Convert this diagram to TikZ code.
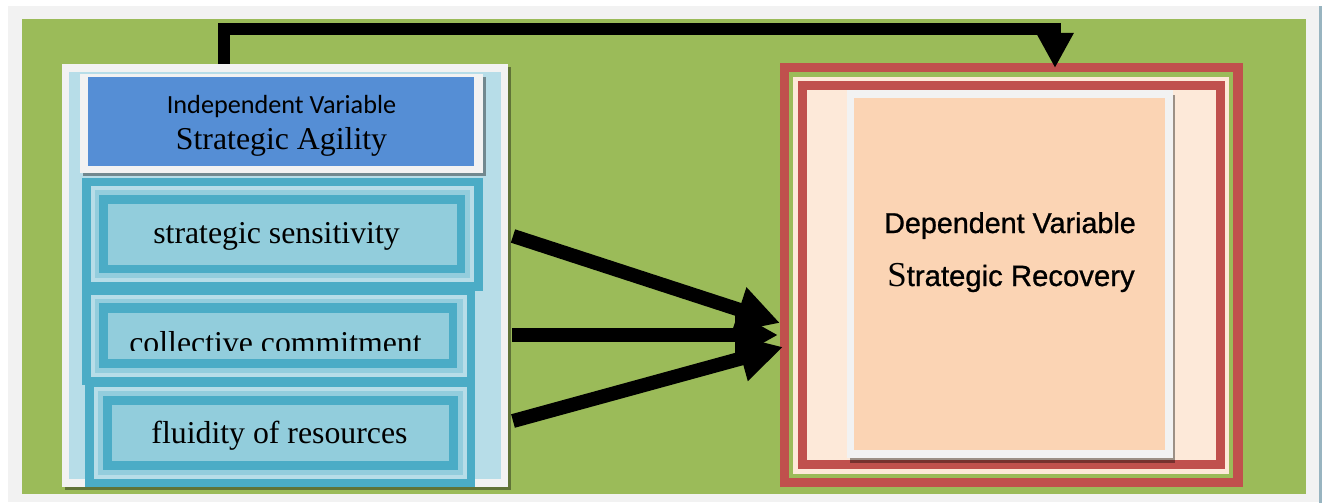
\documentclass[tikz,border=0pt]{standalone}
\usepackage{fontspec}
\setmainfont{Liberation Serif}
\newfontfamily\arialf[FakeBold=0.9]{Liberation Sans}
\newfontfamily\calibrif{Carlito}
\usetikzlibrary{arrows.meta,fit}
\definecolor{gbg}{HTML}{F2F2F2}
\definecolor{grn}{HTML}{9BBB59}
\definecolor{lblue}{HTML}{B7DDE8}
\definecolor{mblue}{HTML}{93CDDD}
\definecolor{fblue}{HTML}{92CDDC}
\definecolor{tealc}{HTML}{4BACC6}
\definecolor{hblue}{HTML}{558ED5}
\definecolor{redc}{HTML}{C0504D}
\definecolor{cream}{HTML}{FDE9D9}
\definecolor{peach}{HTML}{FBD4B4}
\definecolor{edgeb}{HTML}{98B4C0}
\begin{document}
\begin{tikzpicture}[x=1pt,y=-1pt,
  blk/.style={inner sep=0pt,outer sep=0pt,draw=none},
  shd/.style={blk,fill=black,opacity=0.38},
  txtserif/.style={anchor=base,inner sep=0pt,font=\fontsize{31.8}{36}\selectfont},
  conn/.style={line width=14pt,line cap=butt,-{Triangle[length=43pt,width=44pt]}},
  topconn/.style={line width=12pt,line cap=butt,line join=miter,-{Triangle[length=35pt,width=35pt]}}]
\useasboundingbox (0,0) rectangle (1322,503);
\fill[white] (0,0) rectangle (1322,503);
% background
\node[blk,fill=gbg,fit={(8,6) (1322,502)}] (bg) {};
\node[blk,fill=edgeb,fit={(1319,6) (1322,503)}] (edge) {};
\node[blk,fill=grn,fit={(22,19) (1306,494)}] (field) {};

% left panel
\node[shd,fit={(65,67) (511,490)}] (lpshadow) {};
\node[blk,fill=gbg,fit={(62,64) (508,487)}] (lp) {};
\node[blk,fill=lblue,fit={(69,72) (501,479)}] (lpin) {};
% header
\node[shd,fit={(83,77) (486,176)}] (hshadow) {};
\node[blk,fill=gbg,fit={(80,74) (483,173)}] (hframe) {};
\node[blk,fill=hblue,fit={(88,77) (474,166)}] (head) {};
\node[anchor=base,inner sep=0pt,font=\calibrif\fontsize{26.2}{30}\selectfont] (iv) at (281.5,113) {Independent Variable};
\node[txtserif] (sa) at (281.5,149) {Strategic Agility};

% item 1
\node[blk,fill=tealc,fit={(82,178) (483,291)}] (f1) {};
\node[blk,fill=lblue,fit={(91,186) (474,282)}] (f1a) {};
\node[blk,fill=mblue,fit={(95,190) (470,278)}] (f1b) {};
\node[blk,fill=tealc,fit={(99,195) (465,273)}] (f1c) {};
\node[blk,fill=fblue,fit={(108,204) (457,265)}] (s1) {};
\node[txtserif] (t1) at (276.5,243) {strategic sensitivity};

% item 2
\node[blk,fill=tealc,fit={(82,283) (475,385)}] (f2) {};
\node[blk,fill=lblue,fit={(91,295) (467,377)}] (f2a) {};
\node[blk,fill=mblue,fit={(95,299) (463,373)}] (f2b) {};
\node[blk,fill=tealc,fit={(99,303) (457,368)}] (f2c) {};
\node[blk,fill=fblue,fit={(108,313) (449,359)}] (s2) {};
\begin{scope}
\clip (108,313) rectangle (449,350);
\node[txtserif] (t2) at (275.5,353.7) {collective commitment};
\end{scope}

% item 3
\node[blk,fill=tealc,fit={(85,378) (475,487)}] (f3) {};
\node[blk,fill=lblue,fit={(94,387) (467,479)}] (f3a) {};
\node[blk,fill=mblue,fit={(98,391) (463,475)}] (f3b) {};
\node[blk,fill=tealc,fit={(103,396) (458,470)}] (f3c) {};
\node[blk,fill=fblue,fit={(112,405) (449,461)}] (s3) {};
\node[txtserif] (t3) at (279.5,443) {fluidity of resources};

% right panel
\node[blk,fill=redc,fit={(780,63) (1243,487)}] (rp) {};
\node[blk,fill=grn,fit={(789,72) (1233,478)}] (rpg) {};
\node[blk,fill=cream,fit={(793,77) (1229,474)}] (rpc) {};
\node[blk,fill=redc,fit={(798,81) (1225,469)}] (rpr) {};
\node[blk,fill=cream,fit={(807,90) (1216,460)}] (rpin) {};
\node[shd,fit={(850,95) (1175,463)}] (dshadow) {};
\node[blk,fill=gbg,fit={(847,90) (1173,458)}] (dframe) {};
\node[blk,fill=peach,fit={(854,98) (1165,450)}] (dep) {};
\node[anchor=base,inner sep=0pt,font=\arialf\fontsize{28.7}{33}\selectfont] (dv) at (1010,233) {Dependent Variable};
\node[anchor=base,inner sep=0pt] (sr) at (1011,286) {{\fontsize{35}{38}\selectfont S}{\arialf\fontsize{29.3}{33}\selectfont trategic Recovery}};

% connectors
\coordinate (a1s) at (513,236);
\coordinate (a1e) at (780,323);
\coordinate (a2s) at (512,335);
\coordinate (a2e) at (778,335);
\coordinate (a3s) at (513,421);
\coordinate (a3e) at (783,347);
\draw[conn] (a1s) -- (a1e);
\draw[conn] (a2s) -- (a2e);
\draw[conn] (a3s) -- (a3e);

\coordinate (ts) at (224,64);
\coordinate (te) at (1055,68);
\draw[topconn] (ts) -- (224,29) -| (te);
\end{tikzpicture}
\end{document}
